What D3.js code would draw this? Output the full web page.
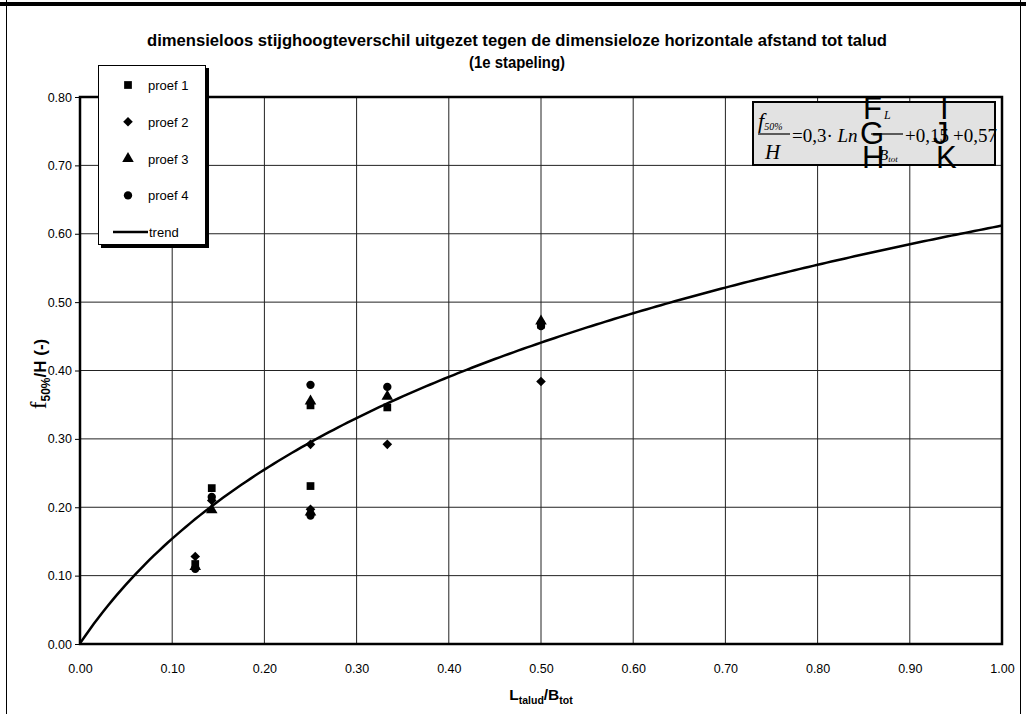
<!DOCTYPE html>
<meta charset="utf-8">
<style>
body { margin: 0; background: #fff; }
svg { display: block; font-family: "Liberation Sans", Arial, sans-serif; }
.axis text { font-size: 12.5px; fill: #000; }
.axis line { stroke: #000; }
.axis path { display: none; }
.grid line { stroke: #222; stroke-width: 1px; }
</style>
<body>
<div id="chart"></div>
<script src="https://cdn.jsdelivr.net/npm/d3@7"></script>
<script>
// values
var xTicks = [0, 0.1, 0.2, 0.3, 0.4, 0.5, 0.6, 0.7, 0.8, 0.9, 1.0];
var yTicks = [0, 0.1, 0.2, 0.3, 0.4, 0.5, 0.6, 0.7, 0.8];
var seriesNames = ["proef 1", "proef 2", "proef 3", "proef 4"];
var xVals  = [0.125, 0.1429, 0.25, 0.25, 0.3333, 0.5];
var proef1 = [0.117, 0.228, 0.349, 0.231, 0.346, 0.467];
var proef2 = [0.128, 0.210, 0.292, 0.197, 0.292, 0.384];
var proef3 = [0.113, 0.196, 0.355, 0.193, 0.362, 0.472];
var proef4 = [0.110, 0.215, 0.379, 0.188, 0.376, 0.465];
// trend: f/H = a*Ln(L/B + b) + c  (equation printed on the chart)
var trendA = 0.3, trendB = 0.15, trendC = 0.57;

var W = 1026, H = 714;

var svg = d3.select("#chart").append("svg")
    .attr("width", W)
    .attr("height", H);

svg.append("rect").attr("width", W).attr("height", H).attr("fill", "#fff");

// chart area border
svg.append("line").attr("x1", 0).attr("x2", W).attr("y1", 4).attr("y2", 4)
    .attr("stroke", "#000").attr("stroke-width", 4);
svg.append("line").attr("x1", 6.5).attr("x2", 6.5).attr("y1", 0).attr("y2", H)
    .attr("stroke", "#000").attr("stroke-width", 1);
svg.append("line").attr("x1", 1020.5).attr("x2", 1020.5).attr("y1", 0).attr("y2", H)
    .attr("stroke", "#000").attr("stroke-width", 1);

var x = d3.scaleLinear().domain([0, 1]).range([80, 1002]);
var y = d3.scaleLinear().domain([0, 0.8]).range([644, 97]);

// gridlines
var grid = svg.append("g").attr("class", "grid");
grid.selectAll(".gx").data(xTicks.slice(1, -1)).enter().append("line")
    .attr("x1", function(d) { return x(d); })
    .attr("x2", function(d) { return x(d); })
    .attr("y1", y(0.8)).attr("y2", y(0));
grid.selectAll(".gy").data(yTicks.slice(1, -1)).enter().append("line")
    .attr("x1", x(0)).attr("x2", x(1))
    .attr("y1", function(d) { return y(d); })
    .attr("y2", function(d) { return y(d); });

// plot area border
svg.append("rect")
    .attr("x", x(0)).attr("y", y(0.8))
    .attr("width", x(1) - x(0)).attr("height", y(0) - y(0.8))
    .attr("fill", "none").attr("stroke", "#000").attr("stroke-width", 2.5);

// axes
svg.append("g").attr("class", "axis")
    .attr("transform", "translate(" + x(0) + ",0)")
    .call(d3.axisLeft(y).tickValues(yTicks).tickFormat(d3.format(".2f")).tickSize(5).tickPadding(3));

svg.append("g").attr("class", "axis")
    .attr("transform", "translate(0," + y(0) + ")")
    .call(d3.axisBottom(x).tickValues(xTicks).tickFormat(d3.format(".2f")).tickSize(0).tickPadding(20));

// trend line
var trendPts = d3.range(0, 1.0001, 0.005);
var line = d3.line()
    .x(function(d) { return x(d); })
    .y(function(d) { return y(trendA * Math.log(d + trendB) + trendC); });
svg.append("path").datum(trendPts)
    .attr("d", line)
    .attr("fill", "none").attr("stroke", "#000").attr("stroke-width", 2.5);

// points (diamond = square turned 45 degrees, like Excel)
var symbols = [d3.symbolSquare, d3.symbolSquare, d3.symbolTriangle, d3.symbolCircle];
var rotate = [0, 45, 0, 0];
var sizes = [60, 46, 58, 55];
var series = [proef1, proef2, proef3, proef4];
series.forEach(function(vals, i) {
  svg.append("g").selectAll("path").data(vals).enter().append("path")
    .attr("transform", function(d, j) {
      return "translate(" + x(xVals[j]) + "," + y(d) + ") rotate(" + rotate[i] + ")";
    })
    .attr("d", d3.symbol().type(symbols[i]).size(sizes[i]))
    .attr("fill", "#000");
});

// legend
var lg = svg.append("g").attr("transform", "translate(98,65)");
lg.append("rect").attr("x", 3).attr("y", 3).attr("width", 108).attr("height", 180).attr("fill", "#000");
lg.append("rect").attr("x", 0.5).attr("y", 0.5).attr("width", 107).attr("height", 179)
    .attr("fill", "#fff").attr("stroke", "#000");
seriesNames.forEach(function(n, i) {
  var yy = 20 + i * 36.8;
  lg.append("path")
    .attr("transform", "translate(30," + yy + ") rotate(" + rotate[i] + ")")
    .attr("d", d3.symbol().type(symbols[i]).size(sizes[i]))
    .attr("fill", "#000");
  lg.append("text").attr("x", 50).attr("y", yy + 5)
    .attr("font-size", 13).text(n);
});
lg.append("line").attr("x1", 15).attr("x2", 50).attr("y1", 167).attr("y2", 167)
    .attr("stroke", "#000").attr("stroke-width", 2.5);
lg.append("text").attr("x", 51).attr("y", 171.5).attr("font-size", 13).text("trend");

// title
svg.append("text").attr("x", 517).attr("y", 46)
    .attr("text-anchor", "middle").attr("font-weight", "bold").attr("font-size", 16)
    .attr("textLength", 740).attr("lengthAdjust", "spacingAndGlyphs")
    .text("dimensieloos stijghoogteverschil uitgezet tegen de dimensieloze horizontale afstand tot talud");
svg.append("text").attr("x", 517).attr("y", 68)
    .attr("text-anchor", "middle").attr("font-weight", "bold").attr("font-size", 16)
    .attr("textLength", 96).attr("lengthAdjust", "spacingAndGlyphs")
    .text("(1e stapeling)");

// axis titles
var xt = svg.append("text").attr("x", 541).attr("y", 700)
    .attr("text-anchor", "middle").attr("font-weight", "bold").attr("font-size", 15.5);
xt.append("tspan").text("L");
xt.append("tspan").attr("font-size", 10.5).attr("dy", 4).text("talud");
xt.append("tspan").attr("dy", -4).text("/B");
xt.append("tspan").attr("font-size", 10.5).attr("dy", 4).text("tot");

var yt = svg.append("text")
    .attr("transform", "translate(46,374) rotate(-90)")
    .attr("text-anchor", "middle").attr("font-weight", "bold").attr("font-size", 17);
yt.append("tspan").attr("font-family", "Liberation Serif, serif").attr("font-weight", "normal").attr("font-size", 23).text("f");
yt.append("tspan").attr("font-size", 12).attr("dy", 4).text("50%");
yt.append("tspan").attr("dy", -4).text("/H (-)");

// equation box
var eq = svg.append("g").attr("transform", "translate(753,102)");
eq.append("rect").attr("x", 0).attr("y", 0).attr("width", 242).attr("height", 63)
    .attr("fill", "#e2e2e2").attr("stroke", "#000").attr("stroke-width", 2);
var serif = "Liberation Serif, Times New Roman, serif";
var fr = eq.append("text").attr("x", 5).attr("y", 26).attr("font-family", serif).attr("font-style", "italic");
fr.append("tspan").attr("font-size", 22).text("f");
fr.append("tspan").attr("font-size", 10).attr("dy", 2).text("50%");
eq.append("line").attr("x1", 5).attr("x2", 37).attr("y1", 32).attr("y2", 32).attr("stroke", "#000").attr("stroke-width", 1.2);
eq.append("text").attr("x", 12).attr("y", 57).attr("font-family", serif).attr("font-style", "italic")
    .attr("font-size", 21).text("H");
var mid = eq.append("text").attr("x", 39).attr("y", 40).attr("font-family", serif).attr("font-size", 19);
mid.append("tspan").text("=0,3\u00b7 ");
mid.append("tspan").attr("font-style", "italic").text("Ln");
// inner fraction L/B
eq.append("line").attr("x1", 118).attr("x2", 150).attr("y1", 32).attr("y2", 32).attr("stroke", "#000").attr("stroke-width", 1.2);
var bt = eq.append("text").attr("x", 126).attr("y", 58).attr("font-family", serif).attr("font-style", "italic");
bt.append("tspan").attr("font-size", 15).text("B");
bt.append("tspan").attr("font-size", 9).attr("dy", 2).text("tot");
eq.append("text").attr("x", 152).attr("y", 40).attr("font-family", serif)
    .attr("font-size", 19).text("+0,15");
eq.append("text").attr("x", 200).attr("y", 40).attr("font-family", serif)
    .attr("font-size", 19).text("+0,57");
// bracket glyphs that fell back to letters (the inner "L" sits under them)
var lb = eq.append("text").attr("font-size", 31).attr("font-family", "Liberation Sans, Arial, sans-serif");
lb.append("tspan").attr("x", 110).attr("y", 17).text("F");
lb.append("tspan").attr("x", 131).attr("y", 17).attr("font-size", 12).attr("font-family", serif).attr("font-style", "italic").text("L");
lb.append("tspan").attr("x", 107).attr("y", 42).text("G");
lb.append("tspan").attr("x", 109).attr("y", 66).text("H");
var rb = eq.append("text").attr("font-size", 31).attr("font-family", "Liberation Sans, Arial, sans-serif");
rb.append("tspan").attr("x", 187).attr("y", 17).text("I");
rb.append("tspan").attr("x", 180).attr("y", 42).text("J");
rb.append("tspan").attr("x", 183).attr("y", 66).text("K");
</script>
</body>
